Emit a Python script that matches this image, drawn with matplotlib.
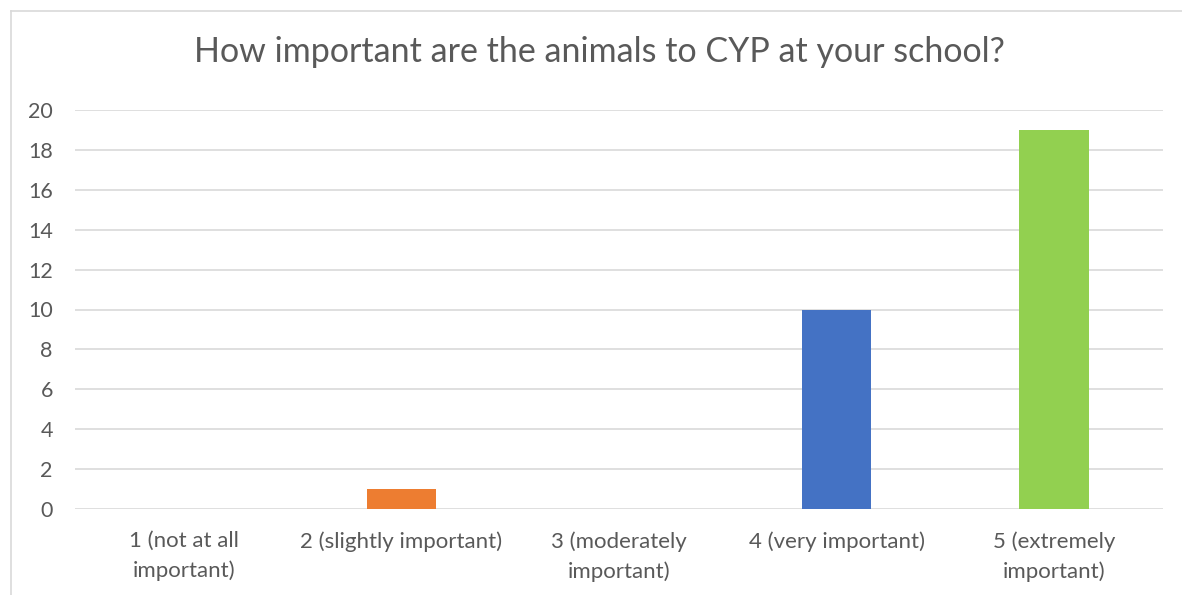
import matplotlib.pyplot as plt
from matplotlib.lines import Line2D

categories = ["1 (not at all\nimportant)", "2 (slightly important)",
              "3 (moderately\nimportant)", "4 (very important)",
              "5 (extremely\nimportant)"]
values = [0, 1, 0, 10, 19]
colors = ["#4472C4", "#ED7D31", "#A5A5A5", "#4472C4", "#92D050"]
title = "How important are the animals to CYP at your school?"

W, H = 1182, 595
plt.rcParams['font.family'] = ['Lato', 'DejaVu Sans']
fig = plt.figure(figsize=(W / 100, H / 100), dpi=100)
ax = fig.add_axes([75 / W, 86 / H, (1163 - 75) / W, (509 - 110) / H])

x = range(len(categories))
ax.bar(x, values, width=0.32, color=colors, zorder=3)
ax.set_xlim(-0.5, len(categories) - 0.5)
ax.set_ylim(0, 20)
ax.set_yticks(range(0, 21, 2))
ax.set_xticks(list(x))
ax.set_xticklabels(categories, fontsize=16, color="#595959", linespacing=1.55)
ax.tick_params(axis='y', labelsize=15.5, labelcolor="#595959", length=0, pad=16)
ax.tick_params(axis='x', length=0, pad=16)
ax.grid(axis='y', color="#D9D9D9", linewidth=1.2, zorder=0)
for s in ax.spines.values():
    s.set_visible(False)

fig.text(599 / W, 1 - 52 / H, title, ha='center', va='center',
         fontsize=24.5, color="#595959")

# chart border (left and top visible)
fig.add_artist(Line2D([11 / W, 11 / W], [0, 1 - 11 / H], color="#D9D9D9", linewidth=1.2))
fig.add_artist(Line2D([11 / W, 1], [1 - 11 / H, 1 - 11 / H], color="#D9D9D9", linewidth=1.2))

fig.savefig("out.png", dpi=100)
